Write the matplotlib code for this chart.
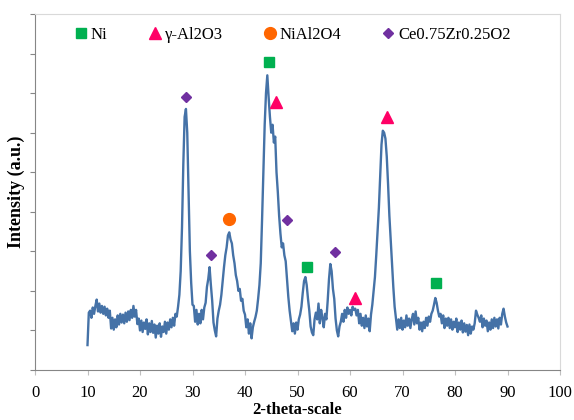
#!/usr/bin/env python3
"""XRD pattern with phase markers -> out.png"""

import matplotlib
matplotlib.use("Agg")
import matplotlib.pyplot as plt
from matplotlib.lines import Line2D
import numpy as np

# 2-theta grid of the scan (0.25 deg step, 10..90)
two_theta = np.arange(10.0, 90.0 + 1e-9, 0.25)

# intensity, one row per 2 degrees (8 points)
intensity = [
    63, 145, 150, 132, 158, 142, 162, 178,            # 10
    148, 168, 145, 162, 142, 160, 138, 155,           # 12
    132, 150, 105, 132, 102, 128, 108, 138,           # 14
    115, 142, 120, 140, 118, 145, 122, 148,           # 16
    126, 152, 132, 162, 135, 152, 116, 130,           # 18
    100, 125, 96, 120, 104, 128, 90, 118,             # 20
    96, 124, 94, 115, 82, 112, 92, 118,               # 22
    84, 110, 96, 122, 92, 120, 102, 128,              # 24
    108, 132, 112, 142, 135, 160, 190, 250,           # 26
    360, 520, 640, 660, 600, 450, 300, 220,           # 28
    165, 162, 122, 152, 115, 142, 118, 152,           # 30
    128, 158, 170, 210, 230, 260, 215, 175,           # 32
    120, 100, 85, 130, 150, 165, 190, 225,            # 34
    260, 290, 310, 340, 348, 330, 320, 290,           # 36
    270, 240, 225, 200, 205, 175, 180, 150,           # 38
    140, 108, 128, 92, 118, 80, 108, 122,             # 40
    134, 150, 180, 215, 270, 380, 500, 620,           # 42
    700, 745, 690, 640, 600, 620, 575, 590,           # 44
    500, 450, 390, 345, 310, 320, 290, 275,           # 46
    230, 185, 150, 125, 98, 118, 92, 120,             # 48
    102, 128, 140, 160, 195, 225, 235, 215,           # 50
    180, 150, 110, 95, 88, 128, 145, 128,             # 52
    168, 118, 152, 132, 108, 142, 128, 175,           # 54
    230, 268, 250, 205, 180, 130, 100, 85,            # 56
    110, 122, 142, 122, 152, 132, 158, 142,           # 58
    152, 138, 160, 152, 155, 138, 152, 118,           # 60
    142, 112, 132, 106, 138, 110, 130, 98,            # 62
    140, 165, 200, 235, 290, 350, 410, 490,           # 64
    570, 605, 600, 585, 540, 470, 390, 330,           # 66
    265, 210, 160, 130, 102, 128, 106, 132,           # 68
    102, 125, 108, 138, 112, 130, 106, 128,           # 70
    142, 115, 148, 118, 132, 102, 120, 98,            # 72
    122, 106, 132, 112, 135, 122, 142, 150,           # 74
    165, 182, 170, 150, 135, 142, 118, 138,           # 76
    106, 130, 112, 132, 106, 128, 102, 122,           # 78
    108, 130, 96, 120, 102, 125, 95, 118,             # 80
    97, 114, 88, 115, 92, 110, 102, 118,              # 82
    150, 140, 132, 122, 138, 108, 130, 112,           # 84
    125, 98, 120, 102, 128, 106, 132, 110,            # 86
    128, 105, 132, 115, 142, 155, 135, 120,           # 88
    110,                                              # 90
]

# phase markers (position, height) and legend labels
ni_x = [44.6, 51.8, 76.4]
ni_y = [779, 260, 220]
al2o3_x = [45.9, 60.95, 67.0]
al2o3_y = [678, 182, 640]
nial2o4_x = [37.0]
nial2o4_y = [382]
cezr_x = [28.8, 33.5, 48.0, 57.1]
cezr_y = [690, 291, 379, 298]

phase_labels = ["Ni", "γ-Al2O3", "NiAl2O4", "Ce0.75Zr0.25O2"]
x_ticks = list(range(0, 101, 10))

plt.rcParams["font.family"] = ["Liberation Serif", "DejaVu Serif"]

fig = plt.figure(figsize=(5.74, 4.2), dpi=100)
ax = fig.add_axes([35 / 574, 50 / 420, 525 / 574, 356 / 420])

ax.plot(two_theta, intensity, color="#4572A7", lw=1.7, zorder=2)

mk = dict(linestyle="none", zorder=3)
ax.plot(ni_x, ni_y, marker="s", ms=7.5, color="#00B050", **mk)
ax.plot(al2o3_x, al2o3_y, marker="^", ms=8.5, color="#FF0066", **mk)
ax.plot(nial2o4_x, nial2o4_y, marker="o", ms=8.5, color="#FF6600", **mk)
ax.plot(cezr_x, cezr_y, marker="D", ms=5.5, color="#7030A0", **mk)

ax.set_xlim(0, 100)
ax.set_ylim(0, 900)
ax.set_xticks(x_ticks)
ax.set_yticks(range(0, 901, 100))
ax.set_yticklabels([])
ax.tick_params(axis="x", direction="out", length=3.5, color="#BFBFBF",
               labelsize=12, pad=7)
ax.tick_params(axis="y", direction="out", length=3.5, color="#868686")

for side in ("left", "bottom"):
    ax.spines[side].set_color("#868686")
for side in ("top", "right"):
    ax.spines[side].set_color("#D9D9D9")

ax.set_xlabel("2-theta-scale", fontsize=12, fontweight="bold", labelpad=1)
ax.set_ylabel("Intensity (a.u.)", fontsize=13, fontweight="bold", labelpad=0)

handles = [
    Line2D([], [], marker="s", ms=7.5, color="#00B050", linestyle="none"),
    Line2D([], [], marker="^", ms=8.5, color="#FF0066", linestyle="none"),
    Line2D([], [], marker="o", ms=8.5, color="#FF6600", linestyle="none"),
    Line2D([], [], marker="D", ms=5.5, color="#7030A0", linestyle="none"),
]
ax.legend(handles, phase_labels, loc="center left", ncol=4, frameon=False,
          bbox_to_anchor=(0.078, 0.941), fontsize=12, handlelength=0.6,
          handletextpad=0.3, columnspacing=2.52, borderaxespad=0,
          borderpad=0)

fig.savefig("out.png", dpi=100)
